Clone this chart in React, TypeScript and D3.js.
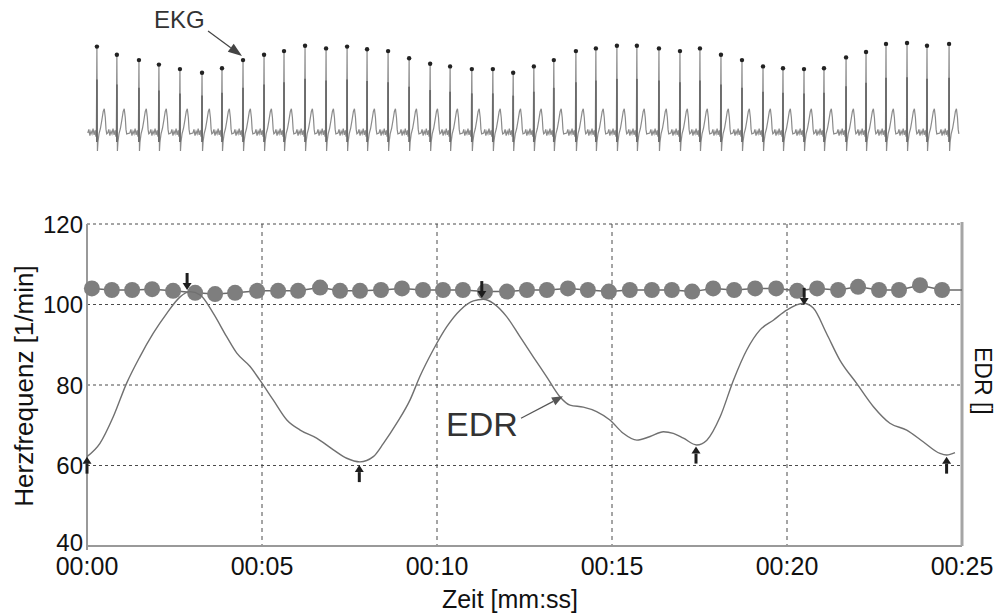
import React, { useEffect, useRef } from "react";
import * as d3 from "d3";

const WIDTH = 998;
const HEIGHT = 615;
const FONT = "'Liberation Sans', Arial, sans-serif";

// heart rate, one dot per beat (time in s, bpm)
const hrTimes = [0.14, 0.71, 1.29, 1.86, 2.46, 3.09, 3.66, 4.23, 4.86, 5.46, 6.03, 6.66, 7.23, 7.8,
  8.4, 9.0, 9.6, 10.17, 10.74, 11.37, 12.0, 12.57, 13.14, 13.74, 14.31, 14.91, 15.51, 16.14,
  16.71, 17.29, 17.89, 18.49, 19.09, 19.69, 20.29, 20.86, 21.46, 22.03, 22.63, 23.2, 23.8, 24.43];
const hrValues = [104.0, 103.6, 103.6, 103.8, 103.4, 102.9, 102.6, 102.9, 103.4, 103.4, 103.4, 104.2, 103.4, 103.4,
  103.6, 104.0, 103.6, 103.6, 103.6, 103.2, 103.2, 103.6, 103.6, 104.0, 103.6, 103.2, 103.6, 103.6,
  103.6, 103.2, 104.0, 103.6, 104.0, 104.0, 103.4, 104.0, 103.6, 104.4, 103.6, 103.6, 104.8, 103.6];

// ECG derived respiration curve
const edrTimes = [0, 0.37, 0.75, 1.13, 1.51, 1.89, 2.28, 2.66, 2.94, 3.23, 3.61, 3.99, 4.28, 4.66, 4.94,
  5.32, 5.71, 6.09, 6.56, 7.04, 7.42, 7.8, 8.18, 8.47, 8.85, 9.23, 9.51, 9.89, 10.28, 10.66, 11.04,
  11.32, 11.61, 11.99, 12.37, 12.75, 13.13, 13.51, 13.8, 14.18, 14.56, 14.94, 15.32, 15.71, 16.09,
  16.47, 16.75, 17.04, 17.42, 17.71, 18.09, 18.47, 18.85, 19.23, 19.61, 19.99, 20.47, 20.75, 21.13,
  21.51, 21.99, 22.47, 22.94, 23.42, 23.89, 24.37, 24.56, 24.8];
const edrValues = [62.2, 65.5, 72.1, 80.4, 87.0, 92.8, 97.8, 101.9, 103.2, 102.4, 97.8, 92.0, 87.9, 84.6, 81.2,
  76.3, 71.3, 68.8, 66.8, 63.9, 61.8, 60.9, 62.2, 65.5, 70.5, 76.3, 82.1, 88.7, 94.5, 98.6, 100.9,
  101.3, 100.3, 97.0, 92.0, 87.0, 82.1, 77.1, 75.0, 74.5, 73.4, 71.3, 68.0, 66.3, 67.2,
  68.4, 68.0, 66.8, 65.1, 66.3, 72.1, 81.2, 88.7, 93.7, 96.1, 98.6, 100.3, 99.1, 92.8,
  86.2, 80.4, 74.6, 70.5, 68.8, 65.9, 63.0, 62.6, 63.2];

// small arrows on EDR extremes
const peakMarkTimes = [2.86, 11.28, 20.49];
const peakMarkValues = [103.6, 101.6, 99.9];
const troughMarkTimes = [0, 7.78, 17.4, 24.56];
const troughMarkValues = [62.2, 60.1, 64.7, 62.2];

const yTicks = [40, 60, 80, 100, 120];
const xTicks = [0, 5, 10, 15, 20, 25];
const xTickLabels = ["00:00", "00:05", "00:10", "00:15", "00:20", "00:25"];

// EKG strip: R peak times (s) and R amplitudes (relative)
const ekgBeatTimes = [0.14, 0.71, 1.34, 1.91, 2.51, 3.14, 3.71, 4.31, 4.91, 5.48, 6.08, 6.68, 7.28, 7.85,
  8.45, 9.05, 9.65, 10.22, 10.84, 11.44, 12.02, 12.61, 13.18, 13.81, 14.38, 14.98, 15.55, 16.18,
  16.78, 17.35, 17.95, 18.55, 19.15, 19.72, 20.32, 20.89, 21.52, 22.09, 22.66, 23.26, 23.83, 24.46];
const ekgBeatAmps = [0.96, 0.87, 0.81, 0.76, 0.71, 0.67, 0.72, 0.81, 0.87, 0.91, 0.97, 0.94, 0.96, 0.93,
  0.91, 0.83, 0.77, 0.74, 0.71, 0.71, 0.67, 0.74, 0.81, 0.91, 0.94, 0.97, 0.97, 0.94,
  0.91, 0.94, 0.87, 0.81, 0.74, 0.72, 0.71, 0.72, 0.84, 0.9, 0.99, 1.0, 0.97, 0.99];
// one PQRST complex, offsets from the R peak (s); null marks the R peak itself
const ekgTemplateDt = [-0.26, -0.23, -0.2, -0.17, -0.14, -0.11, -0.08, -0.05, -0.03, -0.015, 0,
  0.015, 0.03, 0.06, 0.1, 0.14, 0.18, 0.21, 0.24, 0.26, 0.28];
const ekgTemplateVal = [0.0, 0.04, -0.03, 0.02, -0.01, 0.05, -0.02, 0.03, -0.04, 0.05, null,
  -0.2, -0.1, -0.01, 0.05, 0.14, 0.24, 0.27, 0.17, 0.04, -0.01];

function arrow(g: any, x1: number, y1: number, x2: number, y2: number,
  headLen: number, headW: number, color: string, sw: number) {
  const a = Math.atan2(y2 - y1, x2 - x1);
  const bx = x2 - headLen * Math.cos(a);
  const by = y2 - headLen * Math.sin(a);
  g.append("line").attr("x1", x1).attr("y1", y1).attr("x2", bx).attr("y2", by)
    .attr("stroke", color).attr("stroke-width", sw);
  const px = -Math.sin(a) * headW / 2;
  const py = Math.cos(a) * headW / 2;
  g.append("path")
    .attr("d", `M${x2},${y2}L${bx + px},${by + py}L${bx - px},${by - py}Z`)
    .attr("fill", color);
}

export default function App() {
  const ref = useRef<SVGSVGElement>(null);

  useEffect(() => {
    const svg = d3.select(ref.current);
    svg.selectAll("*").remove();

    const x = d3.scaleLinear().domain([0, 25]).range([87, 962]);
    const y = d3.scaleLinear().domain([40, 120]).range([546, 224]);

    // ---- EKG strip ----
    const xE = d3.scaleLinear().domain([0, 25]).range([92, 968]);
    const yE = d3.scaleLinear().domain([0, 1]).range([133, 43]);
    const ekg = svg.append("g");
    const pts: [number, number][] = [];
    ekgBeatTimes.forEach((t, i) => {
      ekgTemplateDt.forEach((dt, j) => {
        const v = ekgTemplateVal[j];
        pts.push([t + dt, v === null ? ekgBeatAmps[i] : v]);
      });
    });
    ekg.append("path")
      .attr("d", d3.line().x(d => xE(d[0])).y(d => yE(d[1]))(pts))
      .attr("fill", "none").attr("stroke", "#8a8a8a").attr("stroke-width", 1.2);
    ekg.selectAll(".stem").data(ekgBeatTimes).join("line").attr("class", "stem")
      .attr("x1", d => xE(d)).attr("x2", d => xE(d))
      .attr("y1", yE(-0.1)).attr("y2", (d, i) => yE(ekgBeatAmps[i] * 0.62))
      .attr("stroke", "#6a6a6a").attr("stroke-width", 1.8);
    ekg.selectAll(".rdot").data(ekgBeatTimes).join("circle").attr("class", "rdot")
      .attr("cx", d => xE(d)).attr("cy", (d, i) => yE(ekgBeatAmps[i]))
      .attr("r", 2.2).attr("fill", "#222");

    const tipX = xE(ekgBeatTimes[7]) - 1;
    const tipY = yE(ekgBeatAmps[7]) - 4;
    arrow(ekg, tipX - 34, tipY - 25, tipX, tipY, 14, 10, "#444", 1.2);
    ekg.append("text").attr("x", tipX - 88).attr("y", tipY - 28)
      .attr("font-family", FONT).attr("font-size", 24).attr("fill", "#333").text("EKG");

    // ---- chart ----
    const grid = svg.append("g");
    grid.selectAll(".hg").data([60, 80, 100, 120]).join("line").attr("class", "hg")
      .attr("x1", x(0)).attr("x2", x(25)).attr("y1", d => y(d)).attr("y2", d => y(d))
      .attr("stroke", "#4a4a4a").attr("stroke-width", 1).attr("stroke-dasharray", "3,3");
    grid.selectAll(".vg").data([5, 10, 15, 20]).join("line").attr("class", "vg")
      .attr("x1", d => x(d)).attr("x2", d => x(d)).attr("y1", y(120)).attr("y2", y(40))
      .attr("stroke", "#4a4a4a").attr("stroke-width", 1).attr("stroke-dasharray", "4,4");

    svg.append("line").attr("x1", x(0)).attr("x2", x(0)).attr("y1", y(120)).attr("y2", y(40) + 4)
      .attr("stroke", "#999").attr("stroke-width", 2);
    svg.append("line").attr("x1", x(0)).attr("x2", x(25)).attr("y1", y(40)).attr("y2", y(40))
      .attr("stroke", "#999").attr("stroke-width", 2);
    svg.append("line").attr("x1", x(25)).attr("x2", x(25)).attr("y1", y(120) - 2).attr("y2", y(40))
      .attr("stroke", "#a5a5a5").attr("stroke-width", 3);

    // heart rate line and dots
    const hrPts: [number, number][] = hrTimes.map((t, i) => [t, hrValues[i]]);
    hrPts.push([25, hrValues[hrValues.length - 1]]);
    svg.append("path")
      .attr("d", d3.line().x(d => x(d[0])).y(d => y(d[1]))(hrPts))
      .attr("fill", "none").attr("stroke", "#6a6a6a").attr("stroke-width", 1.5);
    svg.selectAll(".hr").data(hrTimes).join("circle").attr("class", "hr")
      .attr("cx", d => x(d)).attr("cy", (d, i) => y(hrValues[i]))
      .attr("r", 8).attr("fill", "#7e7e7e");

    // EDR curve
    const edrPts: [number, number][] = edrTimes.map((t, i) => [t, edrValues[i]]);
    svg.append("path")
      .attr("d", d3.line().x(d => x(d[0])).y(d => y(d[1])).curve(d3.curveMonotoneX)(edrPts))
      .attr("fill", "none").attr("stroke", "#707070").attr("stroke-width", 1.4);

    peakMarkTimes.forEach((t, i) => {
      const px = x(t), py = y(peakMarkValues[i]);
      arrow(svg, px, py - 17, px, py, 7, 9, "#1e1e1e", 3);
    });
    troughMarkTimes.forEach((t, i) => {
      const px = x(t), py = y(troughMarkValues[i]);
      arrow(svg, px, py + 17, px, py, 7, 9, "#1e1e1e", 3);
    });

    // EDR label with arrow
    const ax = x(13.6), ay = y(77.2);
    arrow(svg, ax - 42, ay + 22, ax, ay, 11, 9, "#555", 1.2);
    svg.append("text").attr("x", ax - 117).attr("y", ay + 40)
      .attr("font-family", FONT).attr("font-size", 34).attr("fill", "#333").text("EDR");

    // tick labels
    svg.selectAll(".yt").data(yTicks).join("text").attr("class", "yt")
      .attr("x", x(0) - 4).attr("y", d => y(d) + (d === 40 ? 5 : 8.5)).attr("text-anchor", "end")
      .attr("font-family", FONT).attr("font-size", 24).attr("fill", "#111").text(d => d);
    svg.selectAll(".xt").data(xTicks).join("text").attr("class", "xt")
      .attr("x", d => x(d)).attr("y", 575).attr("text-anchor", "middle")
      .attr("font-family", FONT).attr("font-size", 25).attr("fill", "#111")
      .text((d, i) => xTickLabels[i]);

    // axis titles
    svg.append("text").attr("x", 510).attr("y", 608).attr("text-anchor", "middle")
      .attr("font-family", FONT).attr("font-size", 25).attr("fill", "#111").text("Zeit [mm:ss]");
    svg.append("text").attr("transform", "translate(33,386) rotate(-90)").attr("text-anchor", "middle")
      .attr("font-family", FONT).attr("font-size", 26).attr("fill", "#111").text("Herzfrequenz [1/min]");
    svg.append("text").attr("transform", "translate(975,347) rotate(90)")
      .attr("font-family", FONT).attr("font-size", 23).attr("fill", "#111").text("EDR []");
  }, []);

  return (
    <svg ref={ref} width={WIDTH} height={HEIGHT}
      style={{ position: "absolute", left: 0, top: 0, background: "#fff" }} />
  );
}
